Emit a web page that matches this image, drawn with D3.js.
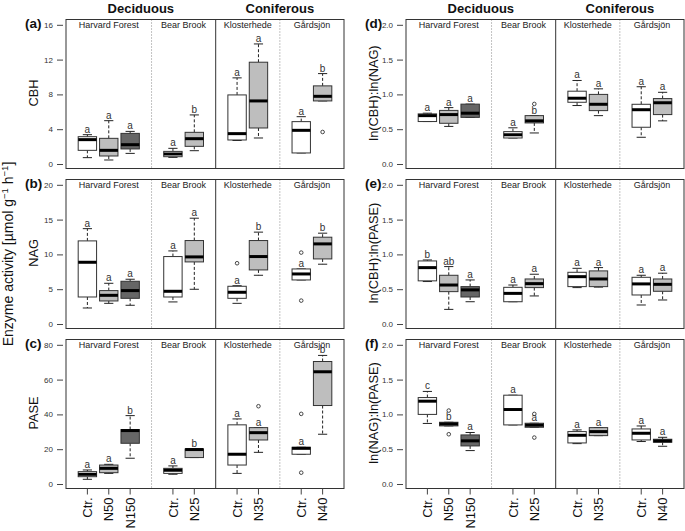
<!DOCTYPE html>
<html><head><meta charset="utf-8">
<script src="https://cdn.jsdelivr.net/npm/d3@7"></script>
<style>body{margin:0;background:#fff}svg{display:block;font-family:Arial,"Liberation Sans",sans-serif}</style>
</head><body><svg id="c" width="685" height="531"></svg>
<script>
// ---- categories ----
const slots = ["HF-Ctr","HF-N50","HF-N150","gap1","BB-Ctr","BB-N25","gap2","KH-Ctr","KH-N35","gap3","GS-Ctr","GS-N40"];
const boxSlots = ["HF-Ctr","HF-N50","HF-N150","BB-Ctr","BB-N25","KH-Ctr","KH-N35","GS-Ctr","GS-N40"];
const treatLabels = ["Ctr.","N50","N150","Ctr.","N25","Ctr.","N35","Ctr.","N40"];
const treatType = ["ctr","low","high","ctr","low","ctr","low","ctr","low"];
const sites = ["Harvard Forest","Bear Brook","Klosterhede","Gårdsjön"];
const siteCenters = [["HF-Ctr","HF-N150"],["BB-Ctr","BB-N25"],["KH-Ctr","KH-N35"],["GS-Ctr","GS-N40"]];
const forestTypes = ["Deciduous","Coniferous"];

// ---- box statistics: [lower whisker, q1, median, q3, upper whisker] ----
const cbhStats = [[0.73,1.57,2.8,3.14,3.37],[0.46,0.92,1.57,2.95,4.98],[1.22,1.73,2.22,3.52,3.75],
  [0.76,0.84,1.15,1.45,1.8],[1.53,2.03,2.91,3.64,5.64],[2.7,2.76,3.49,7.94,9.9],[2.99,4.14,7.25,11.7,13.8],
  [1.27,1.27,3.87,4.87,5.44],[7.25,7.25,7.78,8.98,10.39]];
const cbhOutliers = [[],[],[],[],[],[],[],[],[3.68]];
const cbhLetters = ["a","a","a","a","b","a","a","a","b"];

const nagStats = [[2.3,3.88,8.87,11.94,13.7],[2.97,3.31,4.12,4.8,5.85],[2.69,3.69,4.8,6.14,6.43],
  [3.17,3.88,4.7,9.69,10.5],[4.99,8.92,9.64,11.99,15.2],[2.97,3.69,4.56,5.42,5.5],[7.0,7.77,9.69,11.99,13.2],
  [6.33,6.33,7.19,7.91,7.91],[8.59,9.35,11.51,12.47,13.05]];
const nagOutliers = [[],[],[],[],[],[8.73],[],[10.26,3.36],[]];
const nagLetters = ["a","a","a","a","a","a","b","a","b"];

const paseStats = [[2.7,4.2,5.56,7.1,8.06],[6.1,6.5,9.0,10.9,11.3],[14.8,23.4,30.7,31.3,39.3],
  [5.6,6.1,7.9,9.0,10.4],[15.2,15.2,19.8,20.1,20.1],[6.1,10.9,17.1,34,37.4],[18.2,25.3,29.5,32.4,32.4],
  [17.1,17.1,20.5,21.1,21.1],[28.6,45.1,64.5,70.4,73.9]];
const paseOutliers = [[],[],[],[],[],[],[44.7],[40.3,6.5],[]];
const paseLetters = ["a","a","b","a","b","a","a","a","b"];

const cbhNagStats = [[0.61,0.61,0.695,0.72,0.73],[0.54,0.585,0.71,0.77,0.81],[0.67,0.67,0.73,0.86,0.86],
  [0.374,0.374,0.42,0.465,0.52],[0.446,0.59,0.62,0.695,0.695],[0.84,0.887,0.945,1.046,1.2],[0.695,0.767,0.858,1.0,1.08],
  [0.384,0.528,0.78,0.858,1.11],[0.62,0.71,0.88,0.94,1.03]];
const cbhNagOutliers = [[],[],[],[],[0.863],[],[],[],[]];
const cbhNagLetters = ["a","a","a","a","b","a","a","a","a"];

const cbhPaseStats = [[0.61,0.62,0.81,0.906,0.92],[0.21,0.465,0.56,0.70,0.825],[0.32,0.388,0.49,0.537,0.633],
  [0.32,0.32,0.44,0.527,0.56],[0.403,0.523,0.58,0.647,0.715],[0.523,0.537,0.68,0.743,0.8],[0.53,0.537,0.647,0.763,0.81],
  [0.273,0.417,0.576,0.671,0.70],[0.345,0.47,0.57,0.647,0.73]];
const cbhPaseOutliers = [[],[],[],[],[],[],[],[],[]];
const cbhPaseLetters = ["b","ab","a","a","a","a","a","a","a"];

const nagPaseStats = [[0.87,1.0,1.19,1.242,1.33],[0.835,0.835,0.863,0.887,0.887],[0.48,0.547,0.62,0.705,0.74],
  [0.849,0.849,1.07,1.276,1.276],[0.815,0.815,0.845,0.873,0.873],[0.58,0.59,0.70,0.753,0.777],[0.695,0.695,0.753,0.81,0.81],
  [0.61,0.633,0.729,0.791,0.834],[0.542,0.6,0.619,0.643,0.671]];
const nagPaseOutliers = [[],[1.055,0.715],[],[],[1.007,0.667],[],[],[],[]];
const nagPaseLetters = ["c","b","a","a","a","a","a","a","a"];

// ---- axis ticks ----
const cbhTicks = [0,4,8,12,16];
const nagTicks = [0,5,10,15,20];
const paseTicks = [0,20,40,60,80];
const ratioTicks = [0,0.5,1,1.5,2];

const panels = [
  {id:"(a)", title:"CBH", stats:cbhStats, out:cbhOutliers, let:cbhLetters, ticks:cbhTicks, fmt:d3.format("d"), col:0, row:0},
  {id:"(b)", title:"NAG", stats:nagStats, out:nagOutliers, let:nagLetters, ticks:nagTicks, fmt:d3.format("d"), col:0, row:1},
  {id:"(c)", title:"PASE", stats:paseStats, out:paseOutliers, let:paseLetters, ticks:paseTicks, fmt:d3.format("d"), col:0, row:2},
  {id:"(d)", title:"ln(CBH):ln(NAG)", stats:cbhNagStats, out:cbhNagOutliers, let:cbhNagLetters, ticks:ratioTicks, fmt:d3.format(".1f"), col:1, row:0},
  {id:"(e)", title:"ln(CBH):ln(PASE)", stats:cbhPaseStats, out:cbhPaseOutliers, let:cbhPaseLetters, ticks:ratioTicks, fmt:d3.format(".1f"), col:1, row:1},
  {id:"(f)", title:"ln(NAG):ln(PASE)", stats:nagPaseStats, out:nagPaseOutliers, let:nagPaseLetters, ticks:ratioTicks, fmt:d3.format(".1f"), col:1, row:2}
];

const fills = {ctr:"#ffffff", low:"#bebebe", high:"#666666"};
const svg = d3.select("#c");
const colX = [66, 406], plotW = 278;
const rowY = [19.5, 179.5, 339.5], plotH = 149;

panels.forEach(p => {
  const x0 = colX[p.col], y0 = rowY[p.row];
  const x = d3.scalePoint().domain(slots).range([x0, x0 + plotW]).padding(1);
  const step = x.step();
  const bw = step * 0.86;
  const y = d3.scaleLinear().domain([p.ticks[0], p.ticks[p.ticks.length-1]]).range([y0 + 144.5, y0 + 5.3]);
  const g = svg.append("g");

  // separators
  ["gap1","gap3"].forEach(s => g.append("line").attr("x1", x(s)).attr("x2", x(s)).attr("y1", y0).attr("y2", y0+plotH)
    .attr("stroke","#888").attr("stroke-width",1).attr("stroke-dasharray","1,2"));
  g.append("line").attr("x1", x("gap2")).attr("x2", x("gap2")).attr("y1", y0).attr("y2", y0+plotH)
    .attr("stroke","#333").attr("stroke-width",1);

  // y axis ticks
  const ax = d3.axisLeft(y).tickValues(p.ticks).tickFormat(p.fmt).tickSize(6).tickPadding(4);
  const ag = g.append("g").attr("transform", `translate(${x0-3},0)`).call(ax);
  ag.select(".domain").remove();
  ag.selectAll("line").attr("stroke","#444");
  ag.selectAll("text").attr("font-size", 8).attr("fill","#333").attr("font-family","Arial, 'Liberation Sans', sans-serif");

  // site labels
  sites.forEach((s, i) => {
    const cx = (x(siteCenters[i][0]) + x(siteCenters[i][1])) / 2;
    g.append("text").attr("x", cx).attr("y", y0 + 8.8).attr("text-anchor","middle")
      .attr("font-size", 9).attr("fill","#222").text(s);
  });

  // boxes
  p.stats.forEach((st, i) => {
    const cx = x(boxSlots[i]);
    const [lo, q1, med, q3, hi] = st;
    const bg = g.append("g");
    bg.append("line").attr("x1",cx).attr("x2",cx).attr("y1",y(q3)).attr("y2",y(hi))
      .attr("stroke","#222").attr("stroke-dasharray","3,2");
    bg.append("line").attr("x1",cx).attr("x2",cx).attr("y1",y(q1)).attr("y2",y(lo))
      .attr("stroke","#222").attr("stroke-dasharray","3,2");
    [lo, hi].forEach(v => bg.append("line").attr("x1",cx-bw/4).attr("x2",cx+bw/4).attr("y1",y(v)).attr("y2",y(v))
      .attr("stroke","#222"));
    bg.append("rect").attr("x",cx-bw/2).attr("y",y(q3)).attr("width",bw).attr("height",Math.max(0.5,y(q1)-y(q3)))
      .attr("fill",fills[treatType[i]]).attr("stroke","#333").attr("stroke-width",1);
    bg.append("line").attr("x1",cx-bw/2).attr("x2",cx+bw/2).attr("y1",y(med)).attr("y2",y(med))
      .attr("stroke","#000").attr("stroke-width",3);
    p.out[i].forEach(v => bg.append("circle").attr("cx",cx).attr("cy",y(v)).attr("r",1.8)
      .attr("fill","none").attr("stroke","#333").attr("stroke-width",0.9));
    bg.append("text").attr("x",cx).attr("y",y(hi)-2).attr("text-anchor","middle")
      .attr("font-size",10).attr("fill","#333").text(p.let[i]);
  });

  // frame
  g.append("rect").attr("x",x0).attr("y",y0).attr("width",plotW).attr("height",plotH)
    .attr("fill","none").attr("stroke","#333").attr("stroke-width",1);

  // panel id & title
  g.append("text").attr("x", x0-41).attr("y", y0+8).attr("font-size",13.5).attr("font-weight","bold")
    .attr("fill","#111").text(p.id);
  g.append("text").attr("transform",`translate(${x0-28},${y0+plotH/2 - 1}) rotate(-90)`)
    .attr("text-anchor","middle").attr("font-size",12.8).attr("fill","#111").text(p.title);

  // bottom axis
  if (p.row === 2) {
    boxSlots.forEach((s, i) => {
      g.append("line").attr("x1",x(s)).attr("x2",x(s)).attr("y1",y0+plotH).attr("y2",y0+plotH+6).attr("stroke","#444");
      g.append("text").attr("transform",`translate(${x(s)},${y0+plotH+9}) rotate(-90)`)
        .attr("text-anchor","end").attr("dy","0.36em").attr("font-size",13).attr("fill","#111").text(treatLabels[i]);
    });
  }
  // forest type headers
  if (p.row === 0) {
    g.append("text").attr("x",(x("HF-Ctr")+x("BB-N25"))/2).attr("y",13).attr("text-anchor","middle")
      .attr("font-size",13).attr("font-weight","bold").attr("fill","#111").text(forestTypes[0]);
    g.append("text").attr("x",(x("KH-Ctr")+x("GS-N40"))/2).attr("y",13).attr("text-anchor","middle")
      .attr("font-size",13).attr("font-weight","bold").attr("fill","#111").text(forestTypes[1]);
  }
});

// overall y title
const yt = svg.append("text").attr("transform","translate(13,254) rotate(-90)").attr("text-anchor","middle")
  .attr("font-size",14).attr("fill","#111");
yt.append("tspan").text("Enzyme activity [µmol g");
yt.append("tspan").attr("dy",-5).attr("font-size",9.5).text("−1");
yt.append("tspan").attr("dy",5).text(" h");
yt.append("tspan").attr("dy",-5).attr("font-size",9.5).text("−1");
yt.append("tspan").attr("dy",5).text("]");
</script></body></html>
